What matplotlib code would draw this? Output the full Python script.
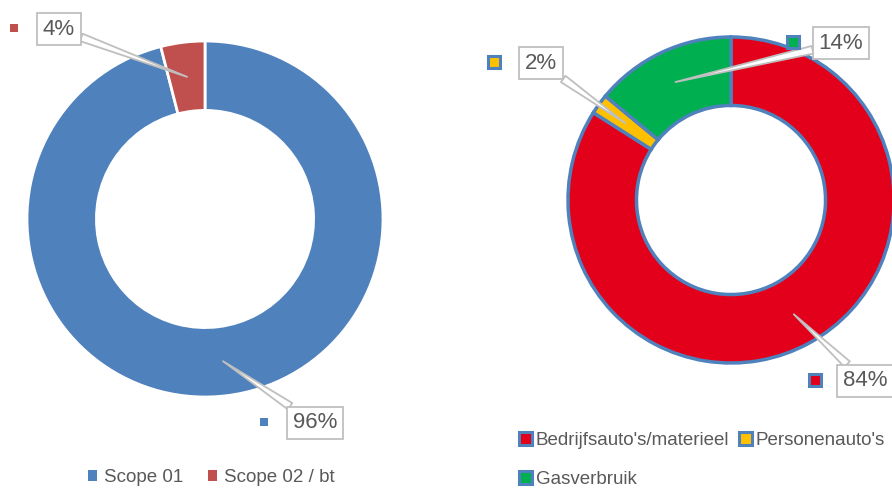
import matplotlib
matplotlib.use("Agg")
import matplotlib.pyplot as plt
import matplotlib.font_manager as fm
from matplotlib.patches import Patch
import numpy as np

# ---------------- data ----------------
left_labels = ["Scope 01", "Scope 02 / bt"]
left_values = [96, 4]
left_colors = ["#4F81BD", "#C0504D"]

right_labels = ["Bedrijfsauto's/materieel", "Personenauto's", "Gasverbruik"]
right_values = [84, 2, 14]
right_colors = ["#E2001A", "#FFC000", "#00B050"]

# ---------------- style ----------------
names = {f.name for f in fm.fontManager.ttflist}
FONT = "Liberation Sans Narrow" if "Liberation Sans Narrow" in names else "Liberation Sans"
plt.rcParams["font.family"] = [FONT, "DejaVu Sans"]
TXT = "#595959"
BOXEDGE = "#BFBFBF"
RING_EDGE = "#4F81BD"
LEG_FS = 13.5

W, H = 892, 488
fig = plt.figure(figsize=(W / 100, H / 100), dpi=100)


def px_axes(cx, cy, r):
    return fig.add_axes([(cx - r) / W, (H - cy - r) / H, 2 * r / W, 2 * r / H])


def label(ax, value, mid_deg, text_xy, marker_xy, color, edge, mid_r):
    ang = np.deg2rad(mid_deg)
    anchor = (mid_r * np.cos(ang), mid_r * np.sin(ang))
    ax.annotate(f"{value}%", xy=anchor, xytext=text_xy, ha="center", va="center",
                fontsize=16, color=TXT, annotation_clip=False,
                bbox=dict(boxstyle="square,pad=0.25", fc="white", ec=BOXEDGE, lw=1.3),
                arrowprops=dict(arrowstyle="wedge,tail_width=0.35", fc="white",
                                ec=BOXEDGE, lw=1.3, shrinkA=0, shrinkB=0),
                zorder=5)
    if edge:
        ax.plot(*marker_xy, marker="s", ms=8.5, mfc=color, mec=edge, mew=2.2,
                clip_on=False, zorder=5)
    else:
        ax.plot(*marker_xy, marker="s", ms=6, mfc=color, mec=color, mew=0,
                clip_on=False, zorder=5)


def mid_angles(values):
    total = sum(values)
    out, start = [], 90.0
    for v in values:
        span = 360.0 * v / total
        out.append(start - span / 2)
        start -= span
    return out


# ---------------- left donut ----------------
axL = px_axes(205, 219, 178)
axL.pie(left_values, colors=left_colors, startangle=90, counterclock=False,
        radius=1.0, wedgeprops=dict(width=0.39, edgecolor="white", linewidth=2))
axL.set_xlim(-1, 1); axL.set_ylim(-1, 1); axL.axis("off")
left_text_pos = [(0.618, -1.146), (-0.82, 1.067)]
left_marker_pos = [(0.331, -1.14), (-1.073, 1.073)]
for v, m, tp, mp, c in zip(left_values, mid_angles(left_values), left_text_pos,
                            left_marker_pos, left_colors):
    label(axL, v, m, tp, mp, c, None, 0.805)

axL.legend(handles=[Patch(fc=c, ec=c, lw=0) for c in left_colors], labels=left_labels,
           loc="upper left", bbox_to_anchor=(88 / W, (H - 469) / H),
           bbox_transform=fig.transFigure, ncol=2, frameon=False, fontsize=LEG_FS,
           labelcolor=TXT, handlelength=0.5, handleheight=0.5, handletextpad=0.35,
           columnspacing=1.3, borderpad=0, borderaxespad=0)

# ---------------- right donut ----------------
axR = px_axes(731, 200, 163)
axR.pie(right_values, colors=right_colors, startangle=90, counterclock=False,
        radius=1.0, wedgeprops=dict(width=0.42, edgecolor=RING_EDGE, linewidth=2.5))
axR.set_xlim(-1, 1); axR.set_ylim(-1, 1); axR.axis("off")
right_text_pos = [(0.822, -1.11), (-1.166, 0.84), (0.675, 0.963)]
right_marker_pos = [(0.515, -1.104), (-1.454, 0.847), (0.38, 0.97)]
for v, m, tp, mp, c in zip(right_values, mid_angles(right_values), right_text_pos,
                            right_marker_pos, right_colors):
    label(axR, v, m, tp, mp, c, RING_EDGE, 0.80)

order = [0, 2, 1]
axR.legend(handles=[Patch(fc=right_colors[i], ec=RING_EDGE, lw=2.2) for i in order],
           labels=[right_labels[i] for i in order],
           loc="upper left", bbox_to_anchor=(519 / W, (H - 432) / H),
           bbox_transform=fig.transFigure, ncol=2, frameon=False, fontsize=LEG_FS,
           labelcolor=TXT, handlelength=0.7, handleheight=0.7, handletextpad=0.2,
           columnspacing=0.5, labelspacing=1.15, borderpad=0, borderaxespad=0)

fig.savefig("out.png", dpi=100)
